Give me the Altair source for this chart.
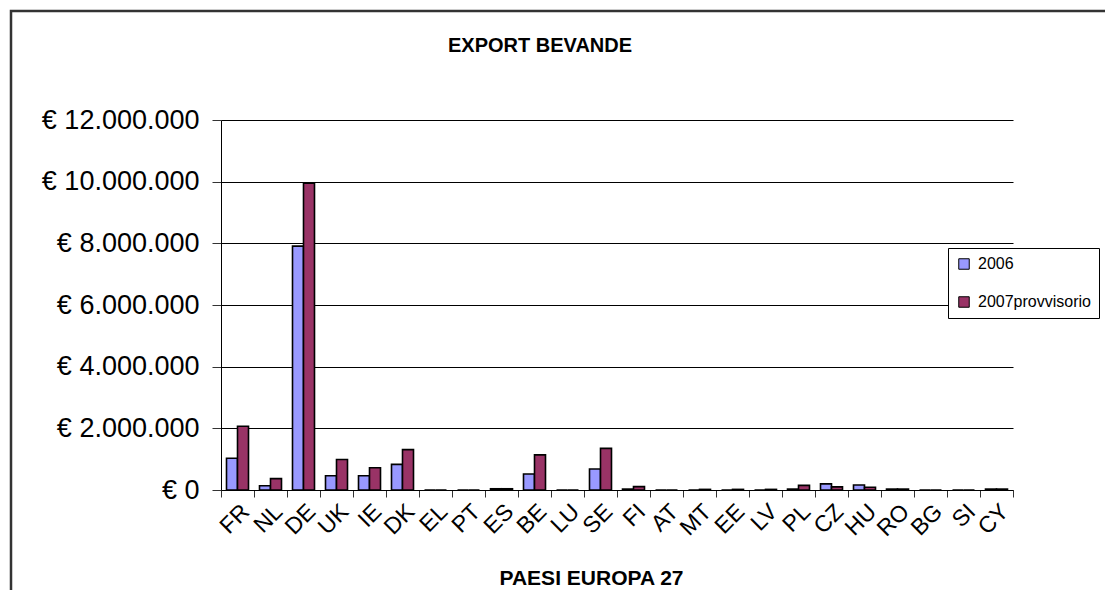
import altair as alt
import pandas as pd

countries = ["FR", "NL", "DE", "UK", "IE", "DK", "EL", "PT", "ES", "BE", "LU", "SE",
             "FI", "AT", "MT", "EE", "LV", "PL", "CZ", "HU", "RO", "BG", "SI", "CY"]
series = ["2006", "2007provvisorio"]
v2006 = [1030000, 140000, 7910000, 460000, 460000, 830000, 0, 0, 40000, 520000, 0, 680000,
         30000, 0, 0, 0, 0, 30000, 200000, 160000, 30000, 0, 0, 30000]
v2007 = [2070000, 370000, 9950000, 990000, 720000, 1310000, 0, 0, 40000, 1140000, 0, 1350000,
         110000, 0, 20000, 20000, 20000, 150000, 100000, 90000, 30000, 0, 0, 30000]
colors = ["#9999FF", "#993366"]
title_text = "EXPORT BEVANDE"

rows = []
for c, a, b in zip(countries, v2006, v2007):
    rows.append({"paese": c, "anno": series[0], "valore": a})
    rows.append({"paese": c, "anno": series[1], "valore": b})
df = pd.DataFrame(rows)

FONT = "Liberation Sans"

bars = alt.Chart(df).mark_bar(stroke="black", strokeWidth=1.6).encode(
    x=alt.X("paese:N", sort=countries,
            scale=alt.Scale(paddingInner=0, paddingOuter=0),
            axis=alt.Axis(title="PAESI EUROPA 27", labelAngle=-45, labelFontSize=23,
                          labelFont=FONT, labelColor="black", labelPadding=3,
                          tickBand="extent", tickSize=7, tickColor="#333",
                          domainColor="black", titleFont=FONT, titleFontSize=21,
                          titleFontWeight="bold", titleColor="black",
                          titleX=370, titleY=88, titleBaseline="middle")),
    xOffset=alt.XOffset("anno:N", sort=series,
                        scale=alt.Scale(paddingOuter=0.5, paddingInner=0)),
    y=alt.Y("valore:Q", scale=alt.Scale(domain=[0, 12000000]),
            axis=alt.Axis(title=None, values=[0, 2000000, 4000000, 6000000, 8000000,
                                              10000000, 12000000],
                          labelExpr="'€ ' + replace(replace(format(datum.value, ','), ',', '.'), ',', '.')",
                          labelFont=FONT, labelFontSize=27, labelColor="black",
                          labelPadding=13, tickSize=9, tickColor="#333",
                          domainColor="black", gridColor="black", gridOpacity=1,
                          gridWidth=1)),
    color=alt.Color("anno:N", sort=series,
                    scale=alt.Scale(domain=series, range=colors),
                    legend=alt.Legend(title=None, orient="none", legendX=727, legendY=128,
                                      labelFont=FONT, labelFontSize=16, labelColor="black",
                                      symbolType="square", symbolSize=110,
                                      symbolStrokeColor="black", symbolStrokeWidth=1,
                                      rowPadding=22, padding=8, strokeColor="black",
                                      fillColor="white", labelOffset=6)),
)

frame = alt.Chart(alt.Data(values=[{}])).mark_rect(
    filled=False, stroke="#333", strokeWidth=2.5, clip=False
).encode(
    x=alt.value(-210), x2=alt.value(1200), y=alt.value(-109), y2=alt.value(700)
)

title = alt.Chart(alt.Data(values=[{}])).mark_text(
    font=FONT, fontSize=20, fontWeight="bold", color="black",
    align="center", baseline="middle", clip=False
).encode(
    x=alt.value(319), y=alt.value(-74), text=alt.value(title_text)
)

chart = alt.layer(frame, bars, title).properties(
    width=792, height=370,
    autosize=alt.AutoSizeParams(type="none"),
    padding={"left": 213, "top": 112, "right": 92, "bottom": 100},
).configure_view(stroke=None)

chart.save("out.html", embed_options={"renderer": "svg", "actions": False})
